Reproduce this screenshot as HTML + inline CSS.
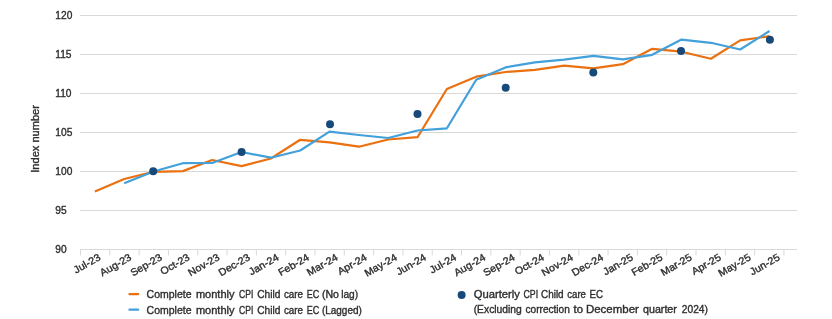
<!DOCTYPE html>
<html><head><meta charset="utf-8"><style>
html,body{margin:0;padding:0;background:#fff;width:832px;height:319px;overflow:hidden}
svg{display:block;will-change:transform}
text{font-family:"Liberation Sans",sans-serif;font-size:10.2px;fill:#2e2e2e;stroke:#2e2e2e;stroke-width:0.35px}
</style></head><body>
<svg width="832" height="319" viewBox="0 0 832 319">
<line x1="80" y1="15.5" x2="797" y2="15.5" stroke="#D9D9D9" stroke-width="1"/>
<line x1="80" y1="54.5" x2="797" y2="54.5" stroke="#D9D9D9" stroke-width="1"/>
<line x1="80" y1="93.5" x2="797" y2="93.5" stroke="#D9D9D9" stroke-width="1"/>
<line x1="80" y1="132.5" x2="797" y2="132.5" stroke="#D9D9D9" stroke-width="1"/>
<line x1="80" y1="171.5" x2="797" y2="171.5" stroke="#D9D9D9" stroke-width="1"/>
<line x1="80" y1="210.5" x2="797" y2="210.5" stroke="#D9D9D9" stroke-width="1"/>
<line x1="80" y1="249.5" x2="797" y2="249.5" stroke="#D9D9D9" stroke-width="1"/>
<line x1="80.5" y1="249.5" x2="80.5" y2="255.5" stroke="#D9D9D9" stroke-width="1"/>
<line x1="109.81" y1="249.5" x2="109.81" y2="255.5" stroke="#D9D9D9" stroke-width="1"/>
<line x1="139.12" y1="249.5" x2="139.12" y2="255.5" stroke="#D9D9D9" stroke-width="1"/>
<line x1="168.43" y1="249.5" x2="168.43" y2="255.5" stroke="#D9D9D9" stroke-width="1"/>
<line x1="197.74" y1="249.5" x2="197.74" y2="255.5" stroke="#D9D9D9" stroke-width="1"/>
<line x1="227.05" y1="249.5" x2="227.05" y2="255.5" stroke="#D9D9D9" stroke-width="1"/>
<line x1="256.36" y1="249.5" x2="256.36" y2="255.5" stroke="#D9D9D9" stroke-width="1"/>
<line x1="285.67" y1="249.5" x2="285.67" y2="255.5" stroke="#D9D9D9" stroke-width="1"/>
<line x1="314.98" y1="249.5" x2="314.98" y2="255.5" stroke="#D9D9D9" stroke-width="1"/>
<line x1="344.29" y1="249.5" x2="344.29" y2="255.5" stroke="#D9D9D9" stroke-width="1"/>
<line x1="373.6" y1="249.5" x2="373.6" y2="255.5" stroke="#D9D9D9" stroke-width="1"/>
<line x1="402.91" y1="249.5" x2="402.91" y2="255.5" stroke="#D9D9D9" stroke-width="1"/>
<line x1="432.22" y1="249.5" x2="432.22" y2="255.5" stroke="#D9D9D9" stroke-width="1"/>
<line x1="461.53" y1="249.5" x2="461.53" y2="255.5" stroke="#D9D9D9" stroke-width="1"/>
<line x1="490.84" y1="249.5" x2="490.84" y2="255.5" stroke="#D9D9D9" stroke-width="1"/>
<line x1="520.15" y1="249.5" x2="520.15" y2="255.5" stroke="#D9D9D9" stroke-width="1"/>
<line x1="549.46" y1="249.5" x2="549.46" y2="255.5" stroke="#D9D9D9" stroke-width="1"/>
<line x1="578.77" y1="249.5" x2="578.77" y2="255.5" stroke="#D9D9D9" stroke-width="1"/>
<line x1="608.08" y1="249.5" x2="608.08" y2="255.5" stroke="#D9D9D9" stroke-width="1"/>
<line x1="637.39" y1="249.5" x2="637.39" y2="255.5" stroke="#D9D9D9" stroke-width="1"/>
<line x1="666.7" y1="249.5" x2="666.7" y2="255.5" stroke="#D9D9D9" stroke-width="1"/>
<line x1="696.01" y1="249.5" x2="696.01" y2="255.5" stroke="#D9D9D9" stroke-width="1"/>
<line x1="725.32" y1="249.5" x2="725.32" y2="255.5" stroke="#D9D9D9" stroke-width="1"/>
<line x1="754.63" y1="249.5" x2="754.63" y2="255.5" stroke="#D9D9D9" stroke-width="1"/>
<line x1="783.94" y1="249.5" x2="783.94" y2="255.5" stroke="#D9D9D9" stroke-width="1"/>
<text x="55.3" y="18.8">120</text>
<text x="55.3" y="57.8">115</text>
<text x="55.3" y="96.8">110</text>
<text x="55.3" y="135.8">105</text>
<text x="55.3" y="174.8">100</text>
<text x="55.3" y="213.8">95</text>
<text x="55.3" y="252.8">90</text>
<text transform="translate(38.6,138.9) rotate(-90)" text-anchor="middle" textLength="67.6" lengthAdjust="spacingAndGlyphs">Index number</text>
<text class="ml p0" transform="translate(101.3,259.2) rotate(-30)" text-anchor="end" textLength="29.14" lengthAdjust="spacingAndGlyphs">Jul-23</text>
<text class="ml p1" transform="translate(132.2,259.2) rotate(-30)" text-anchor="end" textLength="34.50" lengthAdjust="spacingAndGlyphs">Aug-23</text>
<text class="ml p0" transform="translate(162.8,259.2) rotate(-30)" text-anchor="end" textLength="34.50" lengthAdjust="spacingAndGlyphs">Sep-23</text>
<text class="ml p1" transform="translate(190.5,259.2) rotate(-30)" text-anchor="end" textLength="32.11" lengthAdjust="spacingAndGlyphs">Oct-23</text>
<text class="ml p0" transform="translate(220.4,259.2) rotate(-30)" text-anchor="end" textLength="34.49" lengthAdjust="spacingAndGlyphs">Nov-23</text>
<text class="ml p1" transform="translate(250.8,259.2) rotate(-30)" text-anchor="end" textLength="34.49" lengthAdjust="spacingAndGlyphs">Dec-23</text>
<text class="ml p0" transform="translate(279.6,259.2) rotate(-30)" text-anchor="end" textLength="32.71" lengthAdjust="spacingAndGlyphs">Jan-24</text>
<text class="ml p1" transform="translate(310.0,259.2) rotate(-30)" text-anchor="end" textLength="33.90" lengthAdjust="spacingAndGlyphs">Feb-24</text>
<text class="ml p0" transform="translate(338.7,259.2) rotate(-30)" text-anchor="end" textLength="33.90" lengthAdjust="spacingAndGlyphs">Mar-24</text>
<text class="ml p1" transform="translate(367.7,259.2) rotate(-30)" text-anchor="end" textLength="32.11" lengthAdjust="spacingAndGlyphs">Apr-24</text>
<text class="ml p0" transform="translate(397.8,259.2) rotate(-30)" text-anchor="end" textLength="35.68" lengthAdjust="spacingAndGlyphs">May-24</text>
<text class="ml p1" transform="translate(427.0,259.2) rotate(-30)" text-anchor="end" textLength="32.71" lengthAdjust="spacingAndGlyphs">Jun-24</text>
<text class="ml p0" transform="translate(457.2,259.2) rotate(-30)" text-anchor="end" textLength="29.14" lengthAdjust="spacingAndGlyphs">Jul-24</text>
<text class="ml p1" transform="translate(486.3,259.2) rotate(-30)" text-anchor="end" textLength="34.50" lengthAdjust="spacingAndGlyphs">Aug-24</text>
<text class="ml p0" transform="translate(515.7,259.2) rotate(-30)" text-anchor="end" textLength="34.50" lengthAdjust="spacingAndGlyphs">Sep-24</text>
<text class="ml p1" transform="translate(545.0,259.2) rotate(-30)" text-anchor="end" textLength="32.11" lengthAdjust="spacingAndGlyphs">Oct-24</text>
<text class="ml p0" transform="translate(573.9,259.2) rotate(-30)" text-anchor="end" textLength="34.49" lengthAdjust="spacingAndGlyphs">Nov-24</text>
<text class="ml p1" transform="translate(604.2,259.2) rotate(-30)" text-anchor="end" textLength="34.49" lengthAdjust="spacingAndGlyphs">Dec-24</text>
<text class="ml p0" transform="translate(633.9,259.2) rotate(-30)" text-anchor="end" textLength="32.71" lengthAdjust="spacingAndGlyphs">Jan-25</text>
<text class="ml p1" transform="translate(663.3,259.2) rotate(-30)" text-anchor="end" textLength="33.90" lengthAdjust="spacingAndGlyphs">Feb-25</text>
<text class="ml p0" transform="translate(692.6,259.2) rotate(-30)" text-anchor="end" textLength="33.90" lengthAdjust="spacingAndGlyphs">Mar-25</text>
<text class="ml p1" transform="translate(721.8,259.2) rotate(-30)" text-anchor="end" textLength="32.11" lengthAdjust="spacingAndGlyphs">Apr-25</text>
<text class="ml p0" transform="translate(751.6,259.2) rotate(-30)" text-anchor="end" textLength="35.68" lengthAdjust="spacingAndGlyphs">May-25</text>
<text class="ml p1" transform="translate(780.6,259.2) rotate(-30)" text-anchor="end" textLength="32.71" lengthAdjust="spacingAndGlyphs">Jun-25</text>
<polyline points="94.9,191.6 124.2,179.0 153.5,171.8 182.9,171.1 212.2,160.0 241.5,166.1 270.9,158.5 300.2,139.8 329.5,142.3 358.9,146.7 388.2,139.5 417.5,137.2 446.9,89.0 476.2,76.7 505.5,72.0 534.9,69.8 564.2,65.6 593.5,68.4 622.9,64.2 652.2,48.8 681.5,51.7 710.9,58.7 740.2,40.4 769.5,36.2" fill="none" stroke="#EA7010" stroke-width="2.2" stroke-linejoin="round" stroke-linecap="butt"/>
<polyline points="124.2,183.3 153.5,171.5 182.9,163.2 212.2,163.0 241.5,152.0 270.9,157.7 300.2,150.5 329.5,131.6 358.9,135.0 388.2,138.0 417.5,130.5 446.9,128.3 476.2,79.8 505.5,67.4 534.9,62.4 564.2,59.6 593.5,55.9 622.9,59.3 652.2,54.8 681.5,39.6 710.9,42.8 740.2,49.5 769.5,31.0" fill="none" stroke="#42A0DA" stroke-width="2.2" stroke-linejoin="round" stroke-linecap="butt"/>
<circle cx="153.2" cy="171.3" r="4" fill="#17497A"/>
<circle cx="241.6" cy="151.9" r="4" fill="#17497A"/>
<circle cx="330.0" cy="124.3" r="4" fill="#17497A"/>
<circle cx="417.5" cy="113.9" r="4" fill="#17497A"/>
<circle cx="505.7" cy="87.7" r="4" fill="#17497A"/>
<circle cx="593.3" cy="72.4" r="4" fill="#17497A"/>
<circle cx="681.0" cy="51.1" r="4" fill="#17497A"/>
<circle cx="769.9" cy="39.8" r="4" fill="#17497A"/>
<line x1="129.5" y1="294.2" x2="138.1" y2="294.2" stroke="#EA7010" stroke-width="2.3" stroke-linecap="round"/>
<line x1="129.5" y1="309.7" x2="138.1" y2="309.7" stroke="#42A0DA" stroke-width="2.3" stroke-linecap="round"/>
<circle cx="461.6" cy="295.0" r="4" fill="#17497A"/>
<text x="146.6" y="297.9" textLength="44.9" lengthAdjust="spacingAndGlyphs">Complete</text>
<text x="195.9" y="297.9" textLength="38.64" lengthAdjust="spacingAndGlyphs">monthly</text>
<text x="239.1" y="297.9" textLength="14.29" lengthAdjust="spacingAndGlyphs">CPI</text>
<text x="257.2" y="297.9" textLength="23.12" lengthAdjust="spacingAndGlyphs">Child</text>
<text x="283.9" y="297.9" textLength="19.13" lengthAdjust="spacingAndGlyphs">care</text>
<text x="306.7" y="297.9" textLength="12.54" lengthAdjust="spacingAndGlyphs">EC</text>
<text x="321.9" y="297.9" textLength="17.04" lengthAdjust="spacingAndGlyphs">(No</text>
<text x="341.2" y="297.9" textLength="16.9" lengthAdjust="spacingAndGlyphs">lag)</text>
<text x="146.6" y="314.0" textLength="44.9" lengthAdjust="spacingAndGlyphs">Complete</text>
<text x="195.9" y="314.0" textLength="38.64" lengthAdjust="spacingAndGlyphs">monthly</text>
<text x="239.1" y="314.0" textLength="14.29" lengthAdjust="spacingAndGlyphs">CPI</text>
<text x="257.2" y="314.0" textLength="23.12" lengthAdjust="spacingAndGlyphs">Child</text>
<text x="283.9" y="314.0" textLength="19.13" lengthAdjust="spacingAndGlyphs">care</text>
<text x="306.7" y="314.0" textLength="12.54" lengthAdjust="spacingAndGlyphs">EC</text>
<text x="321.9" y="314.0" textLength="39.89" lengthAdjust="spacingAndGlyphs">(Lagged)</text>
<text x="473.7" y="298.4" textLength="46.3" lengthAdjust="spacingAndGlyphs">Quarterly</text>
<text x="523.5" y="298.4" textLength="14.59" lengthAdjust="spacingAndGlyphs">CPI</text>
<text x="541.0" y="298.4" textLength="22.61" lengthAdjust="spacingAndGlyphs">Child</text>
<text x="567.3" y="298.4" textLength="18.64" lengthAdjust="spacingAndGlyphs">care</text>
<text x="589.5" y="298.4" textLength="13.55" lengthAdjust="spacingAndGlyphs">EC</text>
<text x="473.7" y="312.8" textLength="48.07" lengthAdjust="spacingAndGlyphs">(Excluding</text>
<text x="525.5" y="312.8" textLength="44.34" lengthAdjust="spacingAndGlyphs">correction</text>
<text x="573.5" y="312.8" textLength="9.46" lengthAdjust="spacingAndGlyphs">to</text>
<text x="585.9" y="312.8" textLength="53.0" lengthAdjust="spacingAndGlyphs">December</text>
<text x="643.1" y="312.8" textLength="33.75" lengthAdjust="spacingAndGlyphs">quarter</text>
<text x="681.8" y="312.8" textLength="26.16" lengthAdjust="spacingAndGlyphs">2024)</text>
</svg></body></html>
